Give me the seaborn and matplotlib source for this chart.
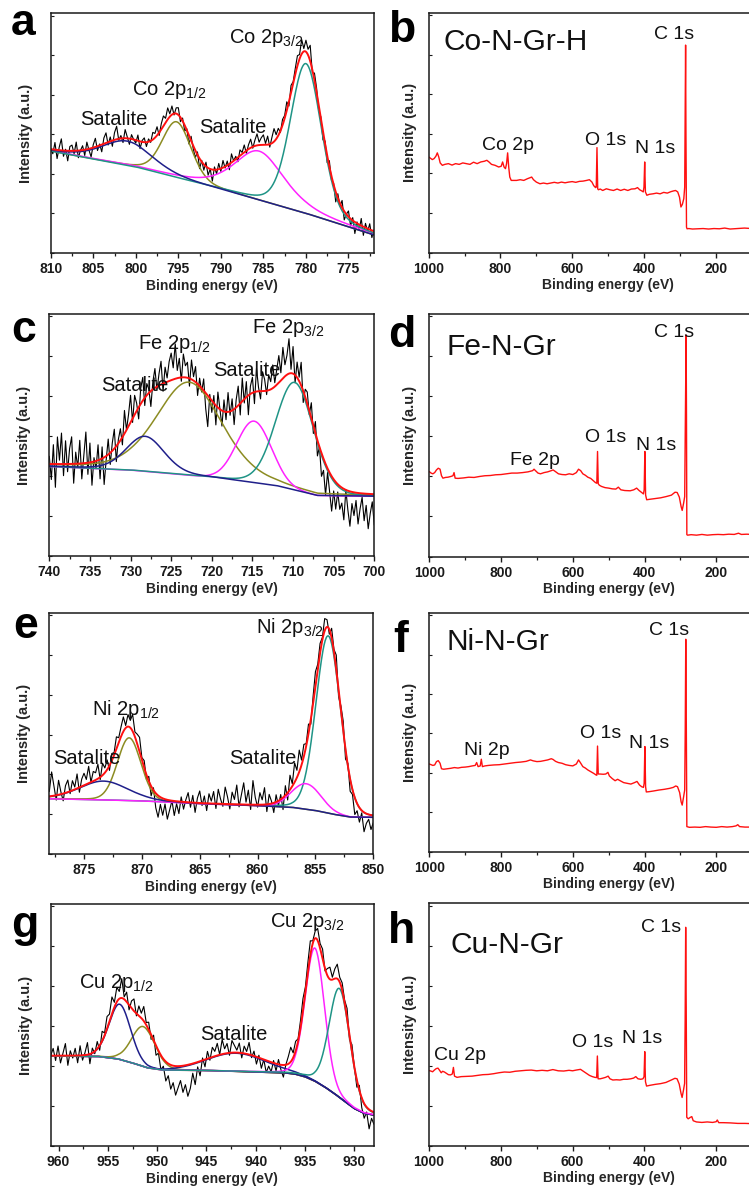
import numpy as np
import matplotlib
matplotlib.use("Agg")
import matplotlib.pyplot as plt
from matplotlib.ticker import MultipleLocator, NullFormatter
import seaborn as sns

sns.set_style("ticks")
plt.rcParams["font.family"] = ["Liberation Sans", "DejaVu Sans"]
plt.rcParams["mathtext.fontset"] = "custom"
plt.rcParams["mathtext.rm"] = "Liberation Sans"
plt.rcParams["mathtext.it"] = "Liberation Sans:italic"
plt.rcParams["mathtext.bf"] = "Liberation Sans:bold"

NAVY = "#1f1f8a"
OLIVE = "#8c8c22"
MAGENTA = "#ff22ff"
TEAL = "#1f9486"
RED = "#ff1010"
BROWN = "#8a1f1f"
BLACK = "#000000"

# ---------------- (a) Co 2p high-resolution ----------------
A_XLIM = (810, 772)
A_BG_E = [810, 800, 790, 780, 772]
A_BG_I = [42.5, 35.8, 26.5, 16.5, 7.5]
A_CENTER = [801.0, 795.2, 785.5, 780.0]
A_HEIGHT = [10.2, 23.4, 20.5, 62.5]
A_FWHM = [7.0, 4.0, 7.0, 4.3]
A_ETA = [0.3, 0.2, 0.5, 0.2]
A_RESID = [0, -3, 5, -6, 2, 8, -4, 1, -7, 3,
           4, -2, 6, -5, 0, 3, -4, 5, -1, -6,
           2, 6, -3, 1, -5, 4, 7, -2, 3, -4,
           5, 9, -1, 2, -3, 6, 1, -4, 3, 0,
           -2, 4, -5, 1, 3, -3, 2, -1, 5, 3,
           6, -2, 4, 7, 3, 8, 2, 6, -1, 4,
           5, -3, 2, -4, 1, -6, 3, -2, -5, 2,
           -7, 1, -4, 3, -5, 0, -8, 2, -3, 4,
           -2, 5, -1, 3, -4, 6, 0, 2, -3, 4,
           1, 5, -2, 3, 6, -1, 4, 8, 2, 5,
           7, 1, 6, -2, 4, 9, 3, 5, -1, 4,
           2, 6, -3, 5, 1, 4, 7, 3, 10, 2,
           8, 4, 11, -2, 5, 3, -4, 1, -6, 2,
           -5, 4, -3, 1, -7, 3, -2, 5, -6, 0,
           4, -5, 2, -8, 1, -4, 5, -6, 3, -2,
           4, -5, 1]
A_RESID_UNIT = 0.6
A_LABELS = [("Co 2p$_{3/2}$", 789.1, 87.6), ("Co 2p$_{1/2}$", 800.4, 65.8),
            ("Satalite", 806.5, 53.3), ("Satalite", 792.6, 50.1)]

# ---------------- (c) Fe 2p high-resolution ----------------
C_XLIM = (740, 700)
C_BG_E = [740, 730, 720, 712, 707, 700]
C_BG_I = [37.0, 35.5, 32.5, 29.0, 25.0, 24.7]
C_CENTER = [728.2, 722.8, 714.8, 709.8]
C_HEIGHT = [14.5, 38.5, 25.5, 44.5]
C_FWHM = [5.5, 9.5, 5.0, 5.5]
C_ETA = [0.2, 0.3, 0.0, 0.1]
C_RESID = [2, -4, 5, -6, 7, 1, 8, -3, 6, -2,
           4, 7, -5, 3, -1, 6, -4, 2, 8, -3,
           5, -6, 1, -2, 4, -5, 3, -7, -1, 4,
           -3, 2, 5, -4, 1, 3, -2, 6, 0, 3,
           7, -1, 5, 2, -3, 4, 6, -2, 3, 1,
           -4, 2, 5, -1, 3, 6, -2, 4, 1, 5,
           7, 3, 9, 2, 5, -1, 6, 3, 4, -2,
           5, 1, 4, -3, 2, -1, 3, -4, -8, 1,
           -3, 2, -5, 4, 0, -4, 3, -2, 5, -1,
           3, -4, 2, 5, -3, 6, -1, 4, -5, 2,
           4, -3, 6, 1, -2, 5, 3, -1, 4, 2,
           6, 1, 4, 7, 2, 8, 3, 5, 9, 1,
           7, -2, 4, 1, 6, -3, 2, 3, -1, 4,
           -2, 3, -4, 0, -6, -3, -8, -1, -5, -9,
           -3, -7, -2, -6, -4, -8, 0, -5, -9, -3,
           -6, -2, -8, -4, -1, -7, -3, -9, -5, -2, -8]
C_RESID_UNIT = 1.6
C_LABELS = [("Fe 2p$_{3/2}$", 715.1, 92.0), ("Fe 2p$_{1/2}$", 729.1, 85.4),
            ("Satalite", 733.6, 68.0), ("Satalite", 719.8, 74.2)]

# ---------------- (e) Ni 2p high-resolution ----------------
E_XLIM = (878, 850)
E_BG_E = [878, 874, 870, 865, 860, 857, 855, 853.5, 852, 850]
E_BG_I = [22.9, 22.5, 22.0, 20.8, 20.0, 19.3, 18.0, 16.5, 15.3, 15.2]
E_CENTER = [873.3, 871.1, 855.8, 853.9]
E_HEIGHT = [7.8, 26.0, 10.6, 73.5]
E_FWHM = [5.0, 2.4, 3.0, 2.5]
E_ETA = [0.2, 0.1, 0.0, 0.1]
E_RESID = [2, 10, 4, -2, 6, 1, -3, 3, 5, -1,
           4, 1, 6, -2, 3, 5, 2, 7, 0, 4,
           3, 6, -1, 5, 2, 4, -2, 3, 1, 5,
           2, 4, 6, 1, 5, 3, 7, 2, 4, 6,
           1, 3, -2, 2, -4, 1, -6, -9, -3, -7,
           -2, -8, -4, 0, -6, -1, -5, 2, -3, 1,
           4, -2, 3, -4, 2, 5, -1, 3, -3, 4,
           1, 5, -2, 6, 2, -1, 7, 3, -2, 5,
           2, 8, -1, 4, 9, 1, 6, -2, 10, 3,
           -1, 5, 2, 7, -3, 4, 1, -4, 3, -2,
           2, -5, 4, -3, 6, 1, 8, 3, 9, 2,
           5, 1, 4, -2, 3, 6, 2, 4, 1, 5,
           3, -2, 4, 1, 6, -3, 2, 4, -4, 1,
           -5, -2, -7, -3, -6, -1, -8, -4, -2, -6, -3]
E_RESID_UNIT = 1.0
E_LABELS = [("Ni 2p$_{3/2}$", 860.1, 91.4), ("Ni 2p$_{1/2}$", 874.3, 57.5),
            ("Satalite", 877.65, 37.1), ("Satalite", 862.5, 37.1)]

# ---------------- (g) Cu 2p high-resolution ----------------
G_XLIM = (960.8, 928)
G_BG_E = [961, 956, 954, 952.5, 951, 949.5, 945, 940, 937, 936, 935, 934,
          933, 932, 931, 930, 929, 928]
G_BG_I = [37.2, 37.0, 36.0, 34.3, 32.3, 31.4, 31.2, 30.6, 30.2, 29.7, 28.6, 26.8,
          24.4, 21.6, 18.5, 15.5, 13.5, 12.8]
G_CENTER = [953.8, 951.4, 942.0, 934.0, 931.5]
G_HEIGHT = [22.8, 16.5, 7.5, 55.0, 45.0]
G_FWHM = [2.6, 2.8, 7.0, 2.3, 2.5]
G_ETA = [0.1, 0.1, 0.0, 0.1, 0.15]
G_RESID = [0, 3, -2, 4, -3, 1, 5, -4, 2, -1,
           3, -3, 4, -2, 1, 5, -4, 2, -1, 3,
           -2, 4, 1, 5, 3, 7, 2, 6, 3, 8,
           1, 4, -2, 3, 5, -1, 4, 2, 6, 1,
           3, -2, 2, -4, -1, -6, -3, -8, -5, -10,
           -7, -12, -9, -6, -11, -8, -13, -10, -4, -9,
           -2, -6, 1, -3, 3, -1, 4, 2, 5, 0,
           6, 2, 4, -1, 5, 3, 1, 4, -2, 3,
           1, 5, -1, 2, -3, 1, -4, 0, -5, -2,
           -4, 1, -3, 2, -2, -5, 0, 3, 6, 2,
           4, 1, 3, 5, 2, 4, 6, 1, 3, 5,
           2, 4, -1, 3, 5, 1, 4, 6, 2, 3,
           1, 4, -2, 3, 0, -3, 2, -4, -6, -2, -8, -3, -5]
G_RESID_UNIT = 1.0
G_LABELS = [("Cu 2p$_{3/2}$", 938.6, 90.4), ("Cu 2p$_{1/2}$", 957.9, 65.2),
            ("Satalite", 945.6, 43.8)]

# ---------------- survey spectra ----------------
B_E = [1000, 990, 985, 980, 976, 972, 968, 962, 955, 945, 935, 925, 915, 905, 895,
       885, 875, 865, 855, 845, 838, 832, 825, 815, 805, 798, 794, 790, 786, 783,
       780, 777, 774, 770, 765, 755, 745, 735, 725, 718, 713, 708, 700, 690, 680,
       670, 660, 650, 640, 630, 620, 610, 600, 590, 580, 570, 560, 552, 545, 540,
       535, 533, 531, 529, 527, 522, 515, 505, 495, 485, 475, 465, 455, 445, 435,
       425, 418, 412, 406, 402, 400, 398, 396, 392, 385, 375, 365, 355, 345, 335,
       325, 318, 312, 306, 301, 297, 293, 289, 286.5, 285, 284, 283, 281.5, 280,
       275, 265, 250, 235, 220, 205, 190, 175, 160, 140, 120, 100, 80, 60, 40, 20, 0]
B_I = [39.9, 38.8, 39.2, 40.2, 41.6, 39.9, 37.4, 36.4, 36.8, 37.1, 36.5, 37.1, 36.8, 37.4, 37.1,
       36.8, 37.7, 37.1, 37.8, 38.1, 38.5, 37.8, 36.8, 36.4, 35.7, 36.0, 37.8, 35.7, 35.0, 37.1,
       41.6, 35.7, 31.5, 30.1, 30.1, 30.1, 30.4, 30.1, 30.8, 31.2, 31.5, 30.4, 29.4, 28.7, 29.0,
       28.7, 29.0, 29.3, 29.0, 29.4, 29.1, 29.4, 29.6, 29.3, 29.7, 29.8, 30.1, 30.4, 29.4, 27.9,
       27.1, 27.3, 43.8, 26.6, 26.2, 26.5, 25.9, 26.6, 26.2, 25.9, 26.5, 25.9, 26.4, 25.9, 26.5,
       26.6, 27.1, 26.2, 25.7, 25.3, 27.3, 37.8, 25.3, 23.9, 24.3, 24.5, 24.8, 24.5, 25.1, 24.8,
       25.4, 25.7, 25.9, 25.3, 23.1, 19.0, 20.1, 22.5, 27.3, 63.6, 86.6, 49.6, 10.6, 9.9,
       10.0, 9.8, 9.9, 10.0, 9.8, 10.0, 9.9, 10.2, 9.8, 10.0, 10.2, 10.0, 9.9, 10.0, 9.9, 10.0, 9.9]
B_LABELS = [("C 1s", 316, 89.1), ("O 1s", 507, 44.8), ("N 1s", 369, 41.4), ("Co 2p", 780, 42.7)]
B_NAME = ("Co-N-Gr-H", 960, 84.5)

D_E = [1000, 995, 990, 985, 980, 975, 970, 966, 962, 955, 948, 940, 934, 931, 928,
       920, 905, 890, 875, 860, 845, 830, 815, 800, 785, 770, 755, 740, 725, 712,
       708, 704, 697, 690, 680, 670, 660, 655, 650, 640, 630, 620, 610, 600, 590,
       584, 578, 572, 565, 558, 550, 543, 537, 533, 531, 529, 526, 520, 510, 500,
       490, 480, 473, 466, 455, 440, 430, 422, 415, 408, 403, 401, 399, 397, 394,
       385, 370, 355, 340, 325, 315, 309, 303, 298, 295, 291, 288, 286.5, 284, 283,
       282, 280, 270, 255, 240, 225, 210, 195, 180, 165, 150, 138, 130, 115, 100,
       80, 60, 40, 20, 0]
D_I = [35.0, 34.4, 34.1, 34.6, 35.7, 36.4, 36.0, 33.3, 32.3, 32.6, 32.7, 33.0, 33.3, 34.6, 32.3,
       32.2, 32.4, 32.7, 32.6, 33.0, 33.3, 33.4, 33.7, 33.8, 34.1, 34.4, 34.4, 34.6, 34.9, 35.4,
       36.0, 35.4, 34.4, 34.1, 34.6, 34.9, 35.4, 35.7, 35.2, 34.1, 33.8, 33.7, 34.1, 33.8, 34.6,
       36.0, 35.4, 34.1, 33.5, 32.7, 32.2, 31.3, 30.5, 30.2, 43.3, 30.0, 29.4, 28.9, 28.4, 28.2,
       27.9, 27.8, 28.6, 27.5, 27.2, 27.1, 27.5, 28.2, 27.2, 26.4, 25.8, 27.5, 43.3, 25.4, 23.4,
       23.6, 23.9, 24.2, 24.7, 25.3, 26.5, 26.4, 24.5, 20.6, 19.0, 22.0, 24.7, 50.8, 91.3, 57.7,
       9.0, 8.8, 9.0, 8.8, 9.1, 8.8, 9.0, 9.1, 9.0, 9.2, 9.1, 9.6, 9.1, 9.2, 9.1,
       9.0, 9.1, 9.0, 9.1, 9.0]
D_LABELS = [("C 1s", 317, 90.4), ("O 1s", 509, 47.4), ("N 1s", 369, 44.0), ("Fe 2p", 705, 37.8)]
D_NAME = ("Fe-N-Gr", 951, 83.1)

F_E = [1000, 995, 990, 985, 980, 975, 970, 966, 960, 950, 940, 930, 920, 910, 900,
       890, 880, 872, 868, 864, 858, 855, 852, 845, 835, 820, 805, 790, 775, 760,
       745, 730, 718, 710, 700, 690, 680, 670, 660, 655, 648, 640, 630, 620, 610,
       600, 590, 584, 579, 572, 565, 558, 550, 542, 535, 533, 531, 529, 524, 515,
       508, 502, 498, 490, 482, 475, 468, 458, 448, 438, 428, 421, 414, 408, 403,
       401, 399, 397, 395, 388, 375, 360, 345, 330, 320, 313, 308, 302, 298, 295,
       291, 288, 286.5, 285, 283.5, 282, 275, 260, 245, 230, 215, 200, 185, 170, 155,
       145, 140, 135, 120, 100, 80, 60, 40, 20, 0]
F_I = [36.7, 36.4, 36.1, 36.3, 37.7, 38.1, 37.0, 34.7, 34.5, 34.7, 34.9, 35.2, 35.0, 35.3, 35.4,
       35.6, 35.9, 36.1, 37.3, 35.6, 35.9, 38.7, 35.6, 35.9, 36.1, 36.3, 36.4, 36.7, 37.0, 37.3,
       37.5, 37.8, 38.4, 38.0, 37.7, 37.8, 38.1, 38.4, 38.9, 38.6, 37.8, 37.3, 37.0, 36.4, 36.1,
       35.9, 36.7, 38.4, 37.3, 35.6, 35.0, 34.2, 33.5, 32.8, 32.1, 32.0, 44.2, 32.5, 32.5, 32.4,
       32.5, 33.2, 31.7, 30.6, 29.7, 30.3, 29.7, 28.9, 28.6, 28.3, 28.9, 29.4, 27.9, 27.2, 26.9,
       28.6, 44.0, 27.2, 25.0, 25.1, 25.4, 25.8, 26.1, 26.5, 26.9, 27.5, 27.2, 24.7, 20.9, 19.5,
       23.0, 25.8, 50.9, 88.9, 53.7, 10.5, 10.2, 10.3, 10.2, 10.5, 10.3, 10.2, 10.5, 10.3, 10.5,
       10.8, 11.3, 10.5, 10.3, 10.3, 10.3, 10.4, 10.3, 10.3, 10.3]
F_LABELS = [("C 1s", 331, 90.7), ("O 1s", 522, 47.6), ("N 1s", 386, 43.4), ("Ni 2p", 840, 40.5)]
F_NAME = ("Ni-N-Gr", 952, 84.4)

H_E = [1000, 995, 990, 985, 980, 975, 971, 966, 962, 957, 952, 946, 940, 935, 932,
       929, 922, 910, 895, 880, 865, 850, 835, 820, 805, 790, 775, 760, 745, 730,
       715, 700, 685, 670, 655, 640, 625, 610, 600, 590, 578, 570, 562, 553, 545,
       538, 533, 531, 529, 523, 515, 508, 501, 496, 488, 478, 468, 458, 448, 438,
       430, 424, 418, 410, 404, 401, 399, 397, 394, 385, 370, 355, 340, 325, 315,
       309, 303, 298, 295, 291, 288, 286.5, 285, 283.5, 282, 278, 272, 268, 264, 255,
       240, 225, 210, 200, 197, 193, 180, 160, 140, 120, 100, 80, 60, 40, 20, 0]
H_I = [31.0, 30.8, 30.5, 31.2, 31.8, 32.0, 31.2, 30.1, 30.7, 30.4, 29.9, 29.3, 29.2, 29.6, 32.3,
       28.7, 28.2, 28.5, 28.6, 28.7, 29.0, 29.3, 29.4, 29.7, 30.1, 30.4, 30.3, 30.7, 30.9, 31.1,
       31.2, 30.9, 31.1, 30.9, 31.4, 30.9, 30.8, 31.1, 30.9, 31.2, 31.5, 30.7, 29.9, 29.0, 28.5,
       28.2, 28.1, 37.0, 27.6, 27.6, 27.9, 28.2, 28.7, 27.6, 27.1, 27.2, 27.1, 27.4, 27.4, 27.6,
       27.9, 28.5, 27.6, 27.4, 27.6, 28.5, 38.8, 26.4, 24.6, 24.9, 25.3, 25.6, 26.1, 27.1, 27.8,
       27.6, 25.4, 21.6, 19.9, 23.0, 25.7, 51.8, 90.1, 57.3, 11.7, 11.1, 11.7, 12.0, 10.3, 9.8,
       9.6, 9.8, 9.6, 9.9, 10.6, 9.5, 9.5, 9.4, 9.2, 9.2, 9.1, 9.1, 9.2, 9.1, 9.1, 9.1]
H_LABELS = [("C 1s", 353, 88.2), ("O 1s", 543, 40.7), ("N 1s", 405, 42.4), ("Cu 2p", 913, 35.3)]
H_NAME = ("Cu-N-Gr", 941, 79.5)

# ---------------- figure and helpers ----------------
W, H = 749, 1187
fig = plt.figure(figsize=(W / 100, H / 100), dpi=100)
fig.patch.set_facecolor("white")


def add_axes_px(left, top, right, bottom):
    return fig.add_axes([left / W, 1 - bottom / H, (right - left) / W, (bottom - top) / H])


def pseudo_voigt(e, center, height, fwhm, eta):
    t = (e - center) / fwhm
    return height * (eta / (1 + 4 * t ** 2) + (1 - eta) * np.exp(-4 * np.log(2) * t ** 2))


def style_axes(ax, xlim, ticks, minor, ylab_pad):
    ax.set_xlim(*xlim)
    ax.set_ylim(0, 100)
    ax.set_xticks(ticks, labels=[f"{t:g}" for t in ticks], fontsize=10, fontweight="bold")
    ax.xaxis.set_minor_locator(MultipleLocator(minor))
    ax.yaxis.set_major_locator(MultipleLocator(16.5))
    ax.yaxis.set_major_formatter(NullFormatter())
    ax.tick_params(axis="x", which="major", direction="out", length=3.6, width=1.0, pad=3.2,
                   colors="#1a1a1a")
    ax.tick_params(axis="x", which="minor", direction="out", length=2.2, width=0.9, colors="#1a1a1a")
    ax.tick_params(axis="y", which="major", direction="in", length=2.2, width=0.8, colors="#1a1a1a")
    for s in ax.spines.values():
        s.set_visible(True)
        s.set_linewidth(1.1)
        s.set_color("#1a1a1a")
    ax.set_xlabel("Binding energy (eV)", fontsize=10, fontweight="bold", labelpad=1.5)
    ax.set_ylabel("Intensity (a.u.)", fontsize=10.5, fontweight="bold", labelpad=ylab_pad)
    ax.set_facecolor("white")


def draw_fit(ax, xlim, bg_e, bg_i, centers, heights, fwhms, etas, colors, order, resid, unit,
             bg_color=None):
    grid = np.linspace(xlim[0], xlim[1], 600)
    bg = np.interp(grid, bg_e[::-1], bg_i[::-1])
    comps = [pseudo_voigt(grid, c, h, w, n) for c, h, w, n in zip(centers, heights, fwhms, etas)]
    envelope = bg + np.sum(comps, axis=0)
    # measured trace: fitted envelope plus the residual at each sampled energy
    e_raw = np.linspace(xlim[0], xlim[1], len(resid))
    raw_bg = np.interp(e_raw, bg_e[::-1], bg_i[::-1])
    raw_fit = raw_bg + np.sum([pseudo_voigt(e_raw, c, h, w, n)
                               for c, h, w, n in zip(centers, heights, fwhms, etas)], axis=0)
    raw = raw_fit + np.asarray(resid) * unit
    sns.lineplot(x=e_raw, y=raw, ax=ax, color=BLACK, linewidth=0.8, sort=False, estimator=None)
    if bg_color is not None:
        sns.lineplot(x=grid, y=bg, ax=ax, color=bg_color, linewidth=1.1, sort=False, estimator=None)
    for k in order:
        sns.lineplot(x=grid, y=bg + comps[k], ax=ax, color=colors[k], linewidth=1.1,
                     sort=False, estimator=None)
    sns.lineplot(x=grid, y=envelope, ax=ax, color=RED, linewidth=1.4, sort=False, estimator=None)


def annotate_fit(ax, labels):
    for text, x, y in labels:
        ax.text(x, y, text, fontsize=14.5, ha="left", va="baseline", color="#111111")


def draw_survey(ax, e, i, labels, name):
    sns.lineplot(x=e, y=i, ax=ax, color=RED, linewidth=1.0, sort=False, estimator=None)
    for text, x, y in labels:
        ax.text(x, y, text, fontsize=14, ha="center", va="baseline", color="#111111")
    ax.text(name[1], name[2], name[0], fontsize=21.5, ha="left", va="baseline", color="#111111")


FIT_COLORS = [NAVY, OLIVE, MAGENTA, TEAL]

# ---------------- left column: fitted 2p spectra ----------------
ax_a = add_axes_px(50.7, 13.3, 374, 253)
draw_fit(ax_a, A_XLIM, A_BG_E, A_BG_I, A_CENTER, A_HEIGHT, A_FWHM, A_ETA,
         FIT_COLORS, [1, 2, 3, 0], A_RESID, A_RESID_UNIT)
style_axes(ax_a, A_XLIM, list(range(810, 771, -5)), 2.5, 9.5)
annotate_fit(ax_a, A_LABELS)

ax_c = add_axes_px(49.3, 314, 374.3, 556)
draw_fit(ax_c, C_XLIM, C_BG_E, C_BG_I, C_CENTER, C_HEIGHT, C_FWHM, C_ETA,
         FIT_COLORS, [1, 2, 3, 0], C_RESID, C_RESID_UNIT)
style_axes(ax_c, C_XLIM, list(range(740, 699, -5)), 2.5, 9.5)
annotate_fit(ax_c, C_LABELS)

ax_e = add_axes_px(49.3, 612.7, 373.3, 854)
draw_fit(ax_e, E_XLIM, E_BG_E, E_BG_I, E_CENTER, E_HEIGHT, E_FWHM, E_ETA,
         FIT_COLORS, [3, 1, 2, 0], E_RESID, E_RESID_UNIT)
style_axes(ax_e, E_XLIM, list(range(875, 849, -5)), 2.5, 9.5)
annotate_fit(ax_e, E_LABELS)

ax_g = add_axes_px(50.7, 904, 374, 1146)
draw_fit(ax_g, G_XLIM, G_BG_E, G_BG_I, G_CENTER, G_HEIGHT, G_FWHM, G_ETA,
         [NAVY, OLIVE, NAVY, MAGENTA, TEAL], [1, 0, 2, 3, 4], G_RESID, G_RESID_UNIT,
         bg_color=BROWN)
style_axes(ax_g, G_XLIM, list(range(960, 929, -5)), 2.5, 9.5)
annotate_fit(ax_g, G_LABELS)

# ---------------- right column: survey spectra ----------------
SURVEY_XLIM = (1000, 0)
SURVEY_TICKS = [1000, 800, 600, 400, 200]

ax_b = add_axes_px(428.7, 13, 787.5, 252.5)
draw_survey(ax_b, B_E, B_I, B_LABELS, B_NAME)
style_axes(ax_b, SURVEY_XLIM, SURVEY_TICKS, 100, 5)

ax_d = add_axes_px(429.3, 314, 788, 556.5)
draw_survey(ax_d, D_E, D_I, D_LABELS, D_NAME)
style_axes(ax_d, SURVEY_XLIM, SURVEY_TICKS, 100, 5)

ax_f = add_axes_px(429.3, 612.7, 788, 851.7)
draw_survey(ax_f, F_E, F_I, F_LABELS, F_NAME)
style_axes(ax_f, SURVEY_XLIM, SURVEY_TICKS, 100, 5)

ax_h = add_axes_px(429, 903.3, 788, 1145.7)
draw_survey(ax_h, H_E, H_I, H_LABELS, H_NAME)
style_axes(ax_h, SURVEY_XLIM, SURVEY_TICKS, 100, 5)

# ---------------- panel letters ----------------
PANEL_LETTERS = [("a", 11, 35), ("b", 388, 41.7), ("c", 11, 341.7), ("d", 388, 346.7),
                 ("e", 13, 638), ("f", 393, 651.7), ("g", 11, 936.7), ("h", 388, 943.3)]
for letter, px, py in PANEL_LETTERS:
    fig.text(px / W, 1 - py / H, letter, fontsize=32, fontweight="bold",
             ha="left", va="baseline", color="black")

fig.savefig("out.png", dpi=100, facecolor="white")
